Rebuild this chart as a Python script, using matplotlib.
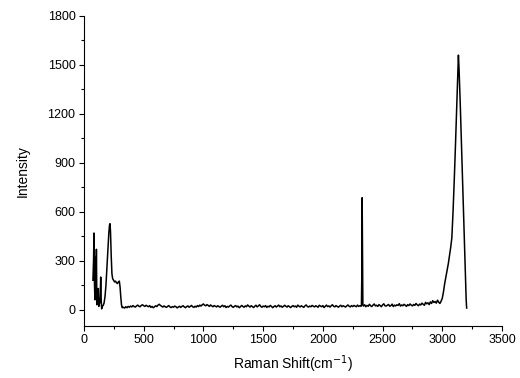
import matplotlib
matplotlib.use("Agg")
import matplotlib.pyplot as plt
import numpy as np
from matplotlib.ticker import MultipleLocator

plt.rcParams["font.family"] = ["Liberation Sans", "DejaVu Sans"]

# low-wavenumber region (cm^-1, intensity)
low_x = [75, 80, 84, 88, 92, 96, 100, 104, 108, 112, 116, 120, 124, 128, 132,
         136, 140, 144, 148, 152, 160, 168, 176, 184, 192, 200, 208, 214, 218,
         222, 228, 234, 240, 248, 256, 264, 272, 280, 288, 296, 302, 308, 314,
         320, 326]
low_y = [180, 300, 470, 150, 60, 320, 120, 370, 30, 80, 40, 130, 20, 60, 40,
         80, 200, 60, 5, 20, 25, 40, 80, 150, 260, 380, 470, 520, 527,
         480, 330, 220, 190, 180, 170, 175, 165, 160, 170, 175, 140, 80, 30,
         12, 15]

# baseline 330..2320 every 10
base1_y = [14, 10, 18, 12, 20, 15, 22, 17, 25, 19, 16, 23, 28, 21, 18, 26, 30, 24, 20, 27,
           22, 18, 25, 14, 20, 12, 17, 24, 19, 28, 33, 26, 21, 16, 23, 18, 14, 20, 25, 17,
           13, 19, 15, 22, 18, 11, 16, 21, 14, 20, 24, 17, 12, 19, 23, 15, 20, 26, 18, 14,
           21, 16, 25, 19, 28, 22, 30, 35, 27, 24, 31, 26, 20, 29, 23, 18, 25, 21, 17, 24,
           19, 15, 22, 27, 18, 24, 13, 20, 16, 23, 28, 19, 14, 21, 25, 17, 22, 12, 18, 26,
           20, 15, 23, 18, 29, 22, 16, 24, 19, 13, 21, 27, 17, 23, 30, 20, 15, 22, 18, 25,
           14, 21, 17, 26, 20, 12, 19, 24, 16, 22, 28, 18, 23, 15, 20, 27, 21, 16, 24, 19,
           13, 20, 25, 18, 22, 15, 28, 21, 17, 24, 19, 14, 23, 29, 20, 16, 22, 18, 26, 21,
           17, 24, 20, 15, 27, 22, 18, 25, 13, 21, 28, 19, 23, 16, 24, 30, 21, 17, 25, 20,
           15, 22, 27, 18, 24, 20, 16, 23, 29, 21, 17, 25, 19, 26, 22, 18, 28, 20, 24, 21]
base1_x = list(range(330, 2330, 10))

# sharp line near 2330
spike_x = [2323, 2326, 2329, 2332, 2335]
spike_y = [25, 200, 686, 300, 30]

# baseline 2340..2990 every 10
base2_y = [22, 30, 18, 26, 21, 33, 24, 19, 28, 35, 23, 27, 20, 31, 25, 18, 29, 36, 24, 22,
           27, 32, 21, 25, 34, 19, 28, 23, 30, 26, 37, 22, 29, 24, 33, 27, 20, 31, 25, 35,
           28, 23, 32, 26, 38, 30, 24, 34, 29, 40, 33, 27, 45, 36, 42, 31, 48, 38, 55, 44,
           50, 40, 58, 46, 38, 52]
base2_x = list(range(2340, 3000, 10))

# C-H stretch band
band_x = [3000, 3010, 3020, 3030, 3040, 3050, 3060, 3070, 3080, 3090, 3100, 3110,
          3120, 3130, 3135, 3140, 3150, 3160, 3170, 3180, 3190, 3200, 3204]
band_y = [70, 110, 160, 200, 240, 280, 330, 380, 440, 600, 790, 1000,
          1230, 1470, 1560, 1480, 1270, 1030, 800, 560, 320, 60, 10]

shift = np.array(low_x + base1_x + spike_x + base2_x + band_x)
intensity = np.array(low_y + base1_y + spike_y + base2_y + band_y)

fig = plt.figure(figsize=(5.2, 3.78), dpi=100)
ax = fig.add_axes([0.1615, 0.1376, 0.8039, 0.8201])
ax.plot(shift, intensity, color="black", linewidth=1.1)

ax.set_xlim(0, 3500)
ax.set_ylim(-100, 1800)
ax.xaxis.set_major_locator(MultipleLocator(500))
ax.xaxis.set_minor_locator(MultipleLocator(250))
ax.set_yticks([0, 300, 600, 900, 1200, 1500, 1800])
ax.yaxis.set_minor_locator(MultipleLocator(150))

for side in ("top", "right"):
    ax.spines[side].set_visible(False)
ax.tick_params(which="major", direction="out", length=3.6, width=0.8, labelsize=9, pad=2.5)
ax.tick_params(which="minor", direction="out", length=2.2, width=0.8)

ax.set_xlabel("Raman Shift(cm$^{-1}$)", fontsize=10)
ax.set_ylabel("Intensity", fontsize=10)
ax.yaxis.set_label_coords(-0.13, 0.5)
ax.xaxis.set_label_coords(0.5, -0.09)

fig.savefig("out.png", dpi=100)
